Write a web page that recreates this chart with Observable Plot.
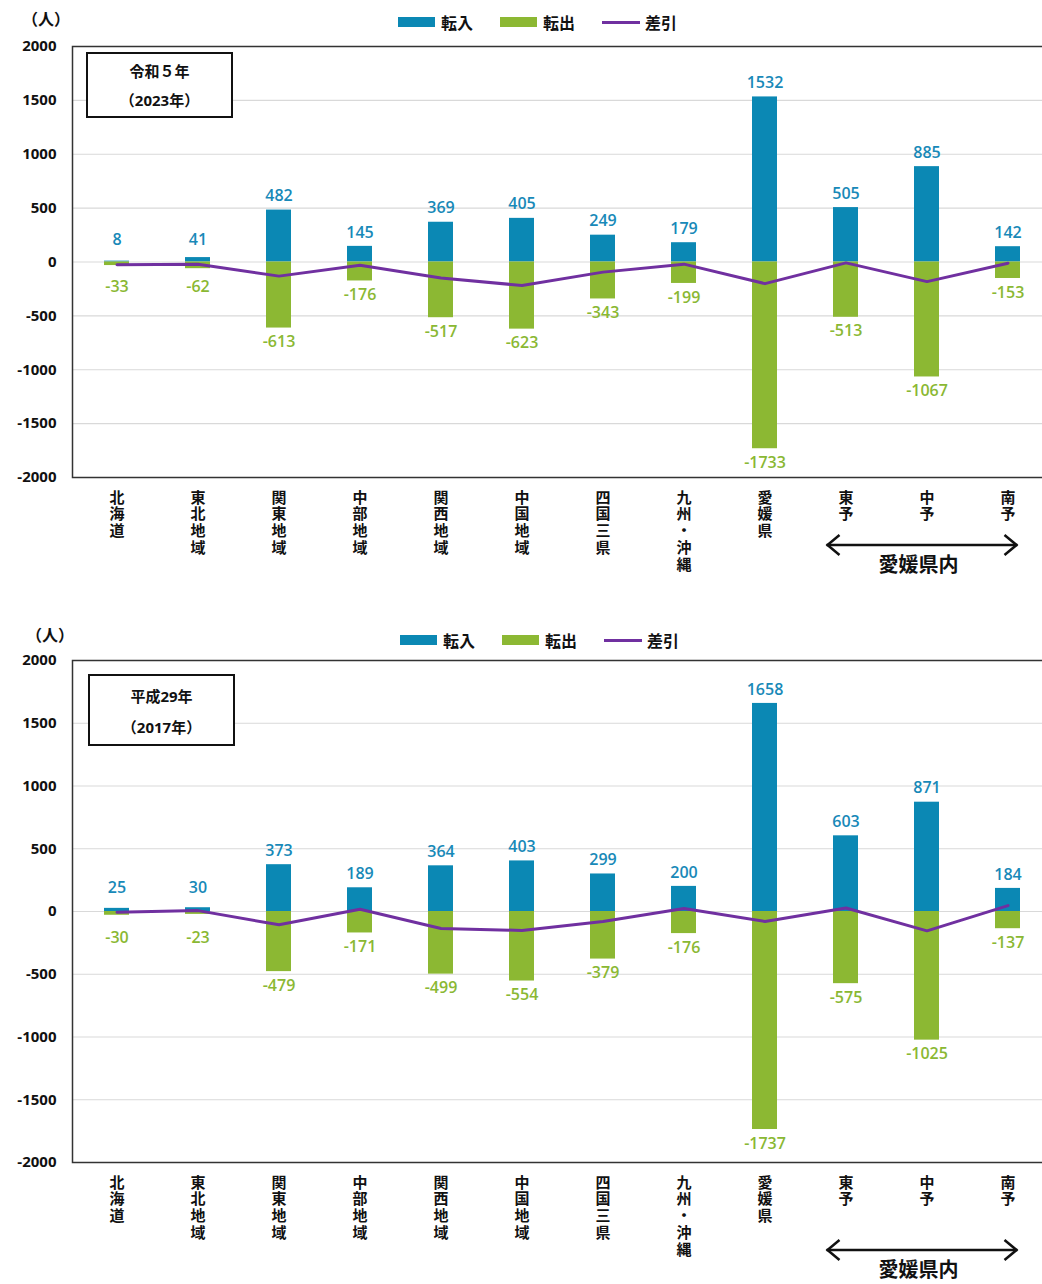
<!DOCTYPE html>
<html><head><meta charset="utf-8">
<script src="https://cdn.jsdelivr.net/npm/d3@7"></script>
<script src="https://cdn.jsdelivr.net/npm/@observablehq/plot@0.6"></script>
<style>
body{margin:0;background:#fff;}
#page{position:relative;width:1042px;height:1284px;overflow:hidden;font-family:'Open Sans','Noto Sans CJK JP',sans-serif;color:#111;}
.legend{position:absolute;display:flex;align-items:center;font-weight:bold;font-size:16px;white-space:nowrap;}
.sw{display:inline-block;width:37px;height:10px;margin-right:6px;}
.ln{display:inline-block;width:38px;height:3px;margin-right:5px;background:#7030A0;}
.item{display:flex;align-items:center;margin-right:27px;}
.unit{position:absolute;font-weight:bold;font-size:16px;}
.box{position:absolute;border:2px solid #111;background:#fff;font-weight:bold;font-size:15px;text-align:center;box-sizing:border-box;}
#page svg{position:absolute;left:0;max-width:none !important;}
</style></head>
<body><div id="page"></div>
<script>
const cats = ["北海道","東北地域","関東地域","中部地域","関西地域","中国地域","四国三県","九州・沖縄","愛媛県","東予","中予","南予"];
const in2023 = [8,41,482,145,369,405,249,179,1532,505,885,142];
const out2023 = [-33,-62,-613,-176,-517,-623,-343,-199,-1733,-513,-1067,-153];
const diff2023 = [-25,-21,-131,-31,-148,-218,-94,-20,-201,-8,-182,-11];
const in2017 = [25,30,373,189,364,403,299,200,1658,603,871,184];
const out2017 = [-30,-23,-479,-171,-499,-554,-379,-176,-1737,-575,-1025,-137];
const diff2017 = [-5,7,-106,18,-135,-151,-80,24,-79,28,-154,47];
const yTicks = [-2000,-1500,-1000,-500,0,500,1000,1500,2000];
const legendLabels = ["転入","転出","差引"];
const unitLabel = "（人）";
const regionLabel = "愛媛県内";

const BLUE = "#0B88B4", GREEN = "#8CB833", PURPLE = "#7030A0";
const FONT = "'Open Sans','Noto Sans CJK JP',sans-serif";
const page = document.getElementById("page");

function chart({ins, outs, diffs, top, height, marginBottom, plotH, arrowDy, textDy, legendTop, legendLeft, unitTop, unitLeft, box}) {
  const rows = cats.map((c,i)=>({cat:c, in:ins[i], out:outs[i], diff:diffs[i]}));
  const plot = Plot.plot({
    width: 1051, height, marginTop: 46, marginLeft: 72, marginRight: 0, marginBottom,
    style: {fontFamily: FONT, color: "#111", background: "transparent", maxWidth: "none"},
    x: {domain: cats, padding: 0, label: null},
    y: {domain: [-2000, 2000], label: null},
    marks: [
      Plot.gridY(yTicks, {stroke: "#d9d9d9", strokeOpacity: 1, strokeWidth: 1.2}),
      Plot.barY(rows, {x: "cat", y: "in", fill: BLUE, insetLeft: 28, insetRight: 28}),
      Plot.barY(rows, {x: "cat", y: "out", fill: GREEN, insetLeft: 28, insetRight: 28}),
      Plot.line(rows, {x: "cat", y: "diff", stroke: PURPLE, strokeWidth: 3}),
      Plot.text(rows, {x: "cat", y: d => Math.max(d.in, 80), text: d => String(d.in), dy: -14, fill: "#1889B8", fontSize: 16, fontWeight: 600}),
      Plot.text(rows, {x: "cat", y: d => Math.min(d.out, -100), text: d => String(d.out), dy: 14, fill: "#8AB833", fontSize: 16, fontWeight: 600}),
      Plot.frame({stroke: "#333", strokeWidth: 1.5}),
      Plot.axisY({ticks: yTicks, tickSize: 0, tickPadding: 16, fontSize: 15, fontWeight: "bold", tickFormat: d => String(d), label: null}),
      Plot.axisX({tickSize: 0, tickPadding: 13, fontSize: 15, fontWeight: "bold", lineHeight: 1.13, tickFormat: d => [...d].join("\n"), label: null})
    ]
  });
  plot.style.top = top + "px";
  page.appendChild(plot);
  const x = plot.scale("x");
  const bw = x.bandwidth;
  const xs = v => x.apply(v) + bw/2;
  const yBottom = 46 + plotH;
  const svg = d3.select(plot);
  const ay = yBottom + arrowDy;
  const x1 = xs("東予") - 19, x2 = xs("南予") + 10;
  const g = svg.append("g").attr("stroke", "#111").attr("stroke-width", 2.5).attr("fill", "none");
  g.append("line").attr("x1", x1).attr("x2", x2).attr("y1", ay).attr("y2", ay);
  g.append("path").attr("d", `M${x1+13},${ay-10}L${x1+1},${ay}L${x1+13},${ay+10}`);
  g.append("path").attr("d", `M${x2-13},${ay-10}L${x2-1},${ay}L${x2-13},${ay+10}`);
  svg.append("text").attr("x", xs("中予") - 8).attr("y", yBottom + textDy).attr("text-anchor", "middle")
    .attr("dominant-baseline", "middle").attr("font-size", 20).attr("font-weight", "bold").attr("fill", "#111")
    .attr("font-family", FONT).text(regionLabel);

  const lg = document.createElement("div");
  lg.className = "legend";
  lg.style.top = legendTop + "px"; lg.style.left = legendLeft + "px";
  lg.innerHTML = `<span class="item"><span class="sw" style="background:${BLUE}"></span>${legendLabels[0]}</span>` +
    `<span class="item"><span class="sw" style="background:${GREEN}"></span>${legendLabels[1]}</span>` +
    `<span class="item"><span class="ln"></span>${legendLabels[2]}</span>`;
  page.appendChild(lg);
  const u = document.createElement("div");
  u.className = "unit"; u.style.top = unitTop + "px"; u.style.left = unitLeft + "px";
  u.textContent = unitLabel;
  page.appendChild(u);
  const b = document.createElement("div");
  b.className = "box";
  Object.assign(b.style, {left: box.left+"px", top: box.top+"px", width: box.w+"px", height: box.h+"px"});
  b.innerHTML = `<div style="margin-top:${box.pad}px">${box.l1}</div><div style="margin-top:${box.gap}px">${box.l2}</div>`;
  page.appendChild(b);
}

chart({ins: in2023, outs: out2023, diffs: diff2023, top: 0, height: 590, marginBottom: 113, plotH: 431,
  arrowDy: 68, textDy: 90, legendTop: 10, legendLeft: 398, unitTop: 6, unitLeft: 22,
  box: {left: 86, top: 52, w: 147, h: 66, pad: 6, gap: 8, l1: "令和５年", l2: "（2023年）"}});
chart({ins: in2017, outs: out2017, diffs: diff2017, top: 614, height: 670, marginBottom: 122, plotH: 502,
  arrowDy: 88, textDy: 110, legendTop: 628, legendLeft: 400, unitTop: 622, unitLeft: 26,
  box: {left: 88, top: 674, w: 147, h: 72, pad: 9, gap: 10, l1: "平成29年", l2: "（2017年）"}});
</script></body></html>
